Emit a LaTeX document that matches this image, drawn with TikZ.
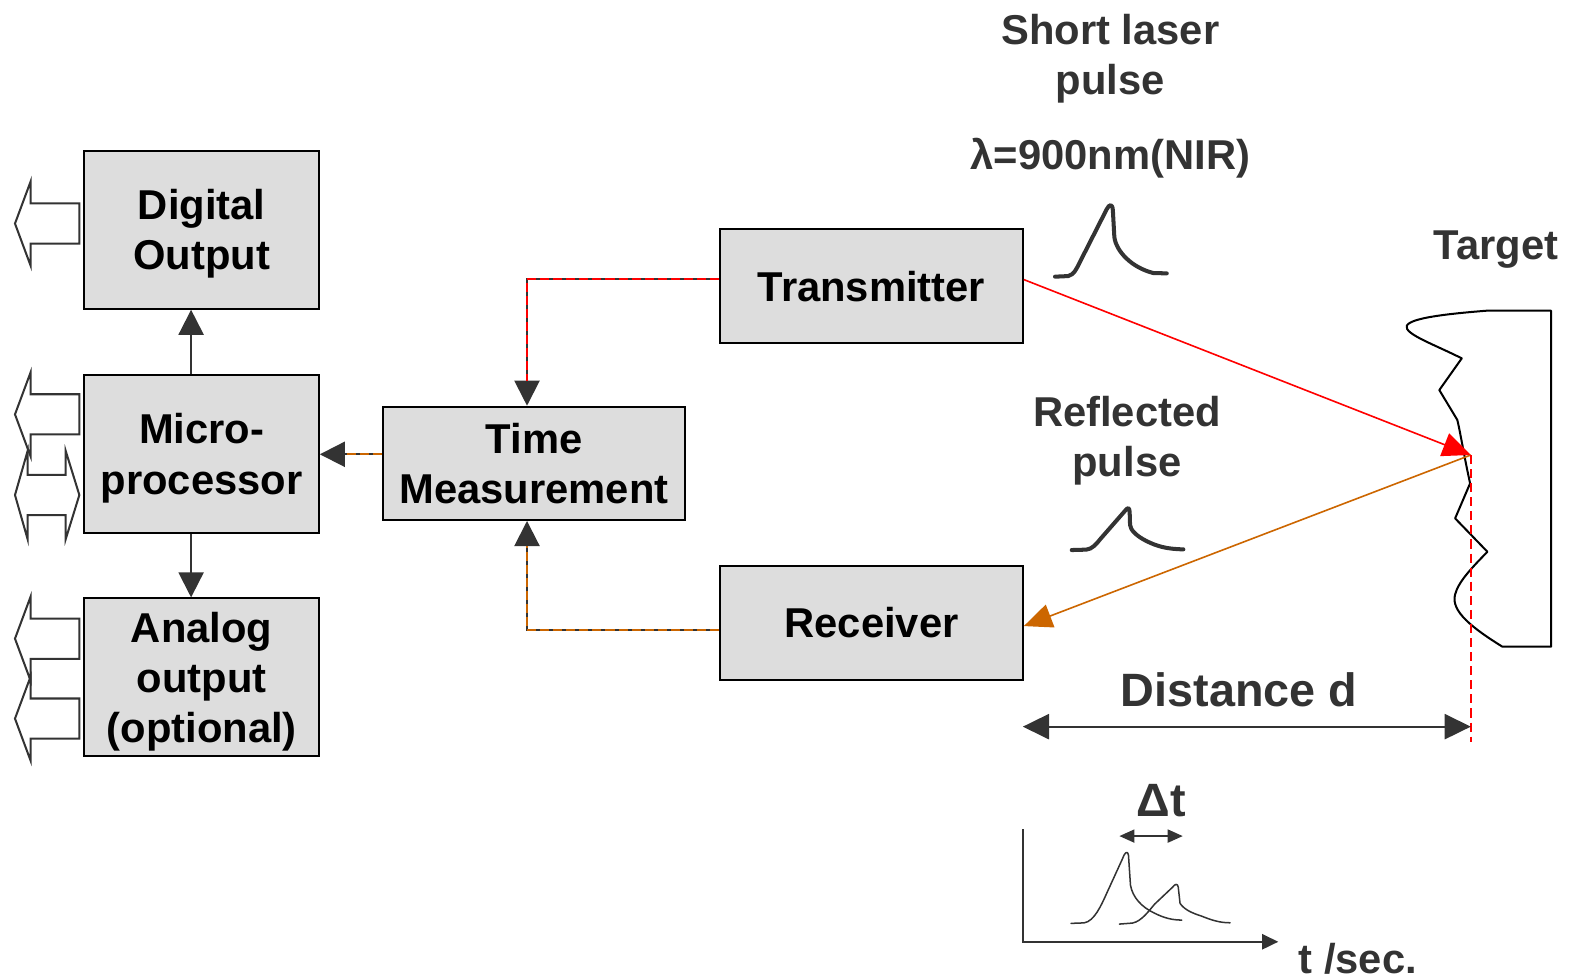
\documentclass[tikz,border=0pt]{standalone}
\usepackage{fontspec}
\setmainfont{Liberation Sans}
\usetikzlibrary{arrows.meta,calc}
\definecolor{dk}{HTML}{333333}
\definecolor{boxfill}{HTML}{DDDDDD}
\definecolor{org}{HTML}{CC6600}
\newcommand\cl[1]{\smash{#1}\rule{0pt}{29.7pt}}
\newcommand\clb[1]{\smash{#1}\rule{0pt}{33.4pt}}
\tikzset{
  bbox/.style={draw=black, line width=2pt, fill=boxfill, inner sep=0pt, align=center, text=black,
    font=\fontsize{41.5}{50}\selectfont\bfseries},
  lbl/.style={inner sep=0pt, align=center, text=dk, font=\fontsize{41.5}{50}\selectfont\bfseries},
  lblbig/.style={inner sep=0pt, align=center, text=dk, font=\fontsize{46.5}{56}\selectfont\bfseries},
  darr/.style={draw=dk, line width=2pt, -{Triangle[length=25pt,width=25pt]}},
  dashover/.style={line width=2pt, dash pattern=on 9pt off 4pt, shorten >=25pt},
  blk/.style={draw=dk, line width=2pt, line join=miter},
  pulsebig/.style={draw=dk, line width=4pt, line cap=round, line join=round},
  pulsesmall/.style={draw=dk, line width=1.5pt, line cap=round, line join=round},
}
\begin{document}
\begin{tikzpicture}[x=1pt,y=-1pt]
\useasboundingbox (0,0) rectangle (1568,974);

% boxes
\node[bbox, minimum width=233pt, minimum height=157pt] (dig) at (200.5,228.5) {\cl{Digital}\\\cl{Output}};
\node[bbox, minimum width=233pt, minimum height=157pt] (mic) at (200.5,451.5) {\cl{Micro-}\\\cl{processor}};
\node[bbox, minimum width=233pt, minimum height=157pt] (ana) at (200.5,673.5) {\cl{Analog}\\\cl{output}\\\cl{(optional)}};
\node[bbox, minimum width=300pt, minimum height=112.6pt] (tm) at (531,460.7) {\cl{Time}\\\cl{Measurement}};
\node[bbox, minimum width=301pt, minimum height=113pt] (tx) at (866.5,284.5) {\cl{Transmitter}};
\node[bbox, minimum width=301pt, minimum height=113pt] (rx) at (866.5,619.5) {\cl{Receiver}};

% block arrows on the left
\foreach \cy in {222.3,412,635,714.5}
  \draw[blk] (14.9,\cy) -- ++(15.6,-42) -- ++(0,22) -- ++(48.4,0) -- ++(0,40) -- ++(-48.4,0) -- ++(0,22) -- cycle;
\draw[blk] (14.9,492.2) -- ++(12.6,-44) -- ++(0,24) -- ++(37.8,0) -- ++(0,-24) -- ++(13.6,44)
  -- ++(-13.6,44) -- ++(0,-24) -- ++(-37.8,0) -- ++(0,24) -- cycle;

% microprocessor arrows
\draw[darr] ($(mic.north)+(-10.5,0)$) -- ($(dig.south)+(-10.5,0)$);
\draw[darr] ($(mic.south)+(-10.5,0)$) -- ($(ana.north)+(-10.5,0)$);

% two-tone connectors
\coordinate (txo) at ([yshift=7.5pt]tx.west);
\coordinate (tmn) at ([xshift=-7pt]tm.north);
\draw[darr] (txo) -| (tmn);
\draw[dashover, red] (txo) -| (tmn);

\coordinate (rxo) at ([yshift=-7pt]rx.west);
\coordinate (tms) at ([xshift=-7pt]tm.south);
\draw[darr] (rxo) -| (tms);
\draw[dashover, org] (rxo) -| (tms);

\coordinate (tmo) at ([yshift=9pt]tm.west);
\draw[darr] (tmo) -- (tmo -| mic.east);
\draw[dashover, org] (tmo) -- (tmo -| mic.east);

% target
\draw[black, line width=2pt, line join=round] (1478.3,308.9) -- (1542.2,308.9) -- (1542.2,643) -- (1493.8,643)
  .. controls (1465,625) and (1442,608) .. (1446.8,591)
  .. controls (1450,578) and (1465,563) .. (1478.9,548.6)
  -- (1446.8,515.4) -- (1461.7,480.6)
  .. controls (1456,455) and (1452,430) .. (1449,417.6)
  -- (1431.1,387.8) -- (1453.4,356.3)
  .. controls (1425,342) and (1396,332) .. (1398.7,324)
  .. controls (1402,316) and (1440,312) .. (1478.3,308.9);

% laser beams
\coordinate (hit) at (1462.4,452.4);
\coordinate (dend) at (1462.4,737.5);
\draw[red, line width=1.6pt, -{Triangle[length=28pt,width=24pt]}] ([yshift=6.5pt]tx.east) -- (hit);
\draw[org, line width=1.6pt, -{Triangle[length=28pt,width=24pt]}] (hit) -- ([yshift=-3pt]rx.east);
\draw[red, line width=2pt, dash pattern=on 9pt off 5pt] (hit) -- (dend);

% distance
\coordinate (dl) at (1017,722.5);
\coordinate (dr) at (1462.4,722.5);
\draw[dk, line width=2pt, {Triangle[length=26pt,width=25pt]}-{Triangle[length=26pt,width=25pt]}] (dl) -- (dr);

% pulses
\draw[pulsebig] (1049,275.1) -- (1062,274.5) .. controls (1068,273) and (1070,268) .. (1074,260)
  -- (1100.4,208) .. controls (1103,203) and (1106,202) .. (1106.5,209) -- (1108,236)
  .. controls (1110,250) and (1125,266) .. (1146.8,271.5) -- (1160.1,271.8);
\draw[pulsebig] (1065.6,546.9) -- (1080,546.5) .. controls (1086,546) and (1090,541) .. (1094,536)
  -- (1118.5,508) .. controls (1121,504.5) and (1123,504) .. (1123.2,509) -- (1123.6,522)
  .. controls (1124,527) and (1130,533) .. (1140,538) .. controls (1150,543) and (1160,546) .. (1176.6,546.2);

% graph
\coordinate (gY) at (1016.9,824.6);
\coordinate (gO) at (1016.9,936.4);
\coordinate (gX) at (1271,936.4);
\draw[dk, line width=2pt, -{Triangle[length=16pt,width=15pt]}] (gY) -- (gO) -- (gX);
\coordinate (dtl) at (1113,831.3);
\coordinate (dtr) at (1176,831.3);
\draw[dk, line width=1.8pt, {Triangle[length=15pt,width=13pt]}-{Triangle[length=15pt,width=13pt]}] (dtl) -- (dtr);
\draw[pulsesmall] (1064.9,918.1) -- (1078,917.6) .. controls (1088,916) and (1095,900) .. (1100,889)
  -- (1116,854) .. controls (1118,848) and (1121,845) .. (1122,850) -- (1124,880)
  .. controls (1126,892) and (1135,902) .. (1148,908) .. controls (1158,913) and (1166,914.8) .. (1175,914.8);
\draw[pulsesmall] (1113,918.8) -- (1126,917.8) .. controls (1135,916) and (1142,906) .. (1148,899)
  -- (1166,882) .. controls (1168,879) and (1171,878) .. (1171.5,882) -- (1173.3,898.2)
  .. controls (1178,905) and (1186,908) .. (1195,911) .. controls (1205,915) and (1213,917.5) .. (1223,917.5);

% labels
\node[lbl] (slp) at (1104,54.2) {\cl{Short laser}\\\cl{pulse}};
\node[lbl] (lam) at (1104,153.2) {\cl{λ=900nm(NIR)}};
\node[lbl] (tgt) at (1487.5,243.2) {\cl{Target}};
\node[lbl] (rfp) at (1120.5,434.2) {\cl{Reflected}\\\cl{pulse}};
\node[lblbig] (dst) at (1232,685.3) {\clb{Distance d}};
\node[lblbig] (dlt) at (1154.5,795.3) {\clb{Δt}};
\node[lbl] (tsec) at (1350,953.2) {\cl{t /sec.}};
\end{tikzpicture}
\end{document}
